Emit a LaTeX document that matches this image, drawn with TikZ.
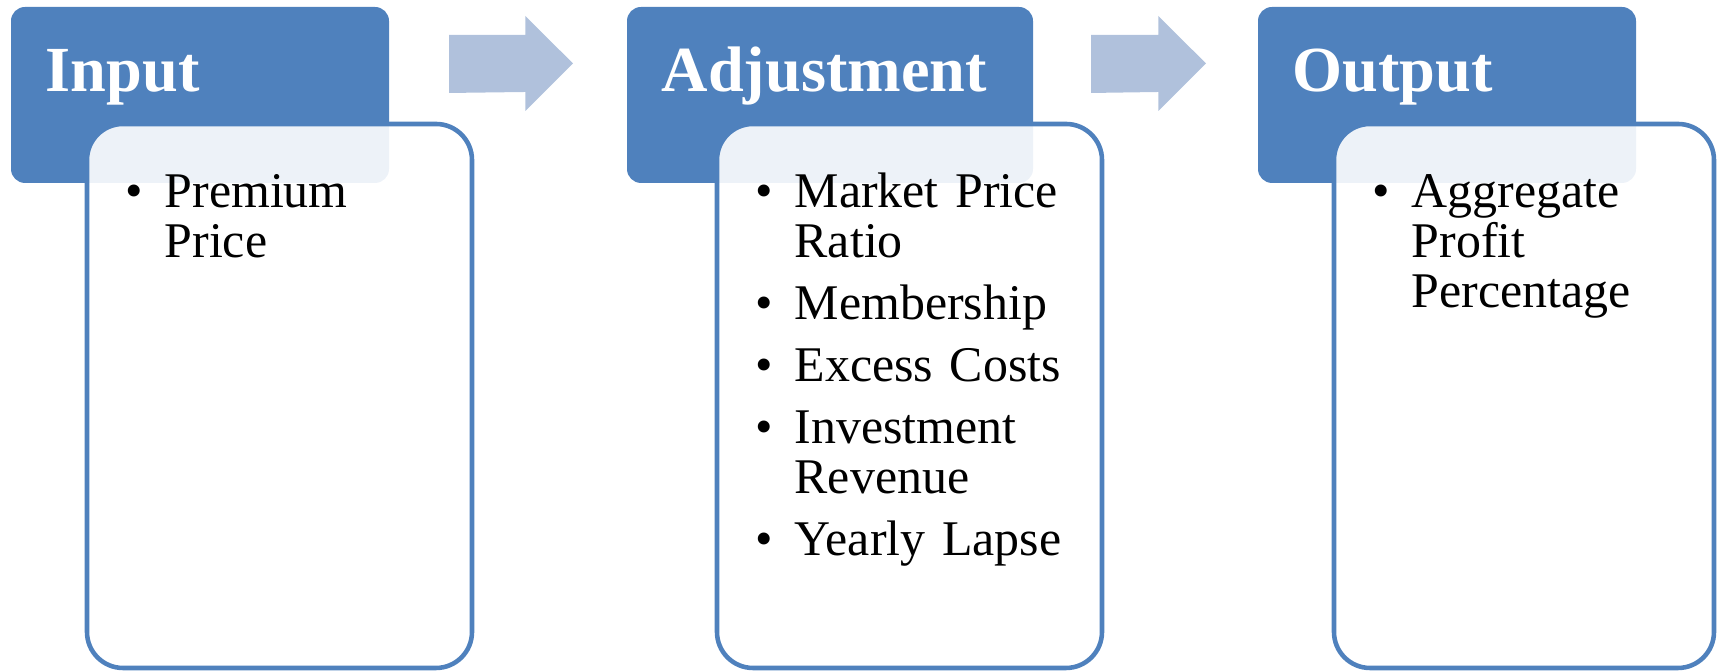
\documentclass[tikz,border=0pt]{standalone}
\usepackage{fontspec}
\setmainfont{Liberation Serif}
\usetikzlibrary{positioning}

\definecolor{headblue}{HTML}{4F81BD}
\definecolor{flowblue}{HTML}{B0C1DC}

\begin{document}
\begin{tikzpicture}[
    header/.style={
        rectangle,
        rounded corners=0.14cm,
        fill=headblue,
        minimum height=1.76cm,
        inner sep=0pt
    },
    panel/.style={
        rectangle,
        rounded corners=0.36cm,
        draw=headblue,
        line width=1.3pt,
        fill=white,
        fill opacity=0.9,
        minimum width=3.85cm,
        minimum height=5.44cm,
        inner sep=0pt
    },
    headtext/.style={
        anchor=base west,
        inner sep=0pt,
        text=white,
        font=\fontsize{18.3pt}{20pt}\selectfont\bfseries
    },
    entry/.style={
        anchor=base west,
        inner sep=0pt,
        text width=3.2cm,
        align=left,
        font=\fontsize{14.2pt}{0.5cm}\selectfont
    },
    dot/.style={
        anchor=base,
        inner sep=0pt,
        font=\fontsize{14.2pt}{0.5cm}\selectfont
    },
    flow/.style={
        fill=flowblue
    }
]

\useasboundingbox (0,0) rectangle (17.19,6.71);

% ===========================================================
% Header tabs
% ===========================================================

\node[header, minimum width=3.78cm] (inhead)  at (2.00,5.76) {};
\node[header, minimum width=4.06cm] (adjhead) at (8.30,5.76) {};
\node[header, minimum width=3.78cm] (outhead) at (14.47,5.76) {};

\node[headtext] (intitle)  at (0.45,5.79)  {Input};
\node[headtext] (adjtitle) at (6.61,5.79)  {Adjustment};
\node[headtext] (outtitle) at (12.92,5.79) {Output};

% Block arrows between the tabs
\foreach \x/\len in {4.49/1.24, 10.91/1.15}
    \fill[flow] (\x,5.78) -- ++(0,0.58) -- ++(\len-0.476,0)
        -- ++(0,0.19) -- ++(0.476,-0.475) -- ++(-0.476,-0.475)
        -- ++(0,0.19) -- cycle;

% ===========================================================
% Content panels (lie over the lower part of the tabs)
% ===========================================================

\node[panel] (inbody)  at (2.795,2.75) {};
\node[panel] (adjbody) at (9.095,2.75) {};
\node[panel, minimum width=3.80cm] (outbody) at (15.24,2.75) {};

% Input list
\node[dot]   (indot1)  at (1.34,4.63) {\textbullet};
\node[entry] (initem1) at (1.64,4.63) {Premium\\Price};

% Adjustment list
\foreach \y/\txt [count=\i] in {
    4.63/{Market Price\\Ratio},
    3.51/{Membership},
    2.89/{Excess Costs},
    2.27/{Investment\\Revenue},
    1.15/{Yearly Lapse}}
{
    \node[dot]   (adjdot\i)  at (7.64,\y) {\textbullet};
    \node[entry] (adjitem\i) at (7.94,\y) {\txt};
}

% Output list
\node[dot]   (outdot1)  at (13.81,4.63) {\textbullet};
\node[entry] (outitem1) at (14.11,4.63) {Aggregate\\Profit\\Percentage};

\end{tikzpicture}
\end{document}
